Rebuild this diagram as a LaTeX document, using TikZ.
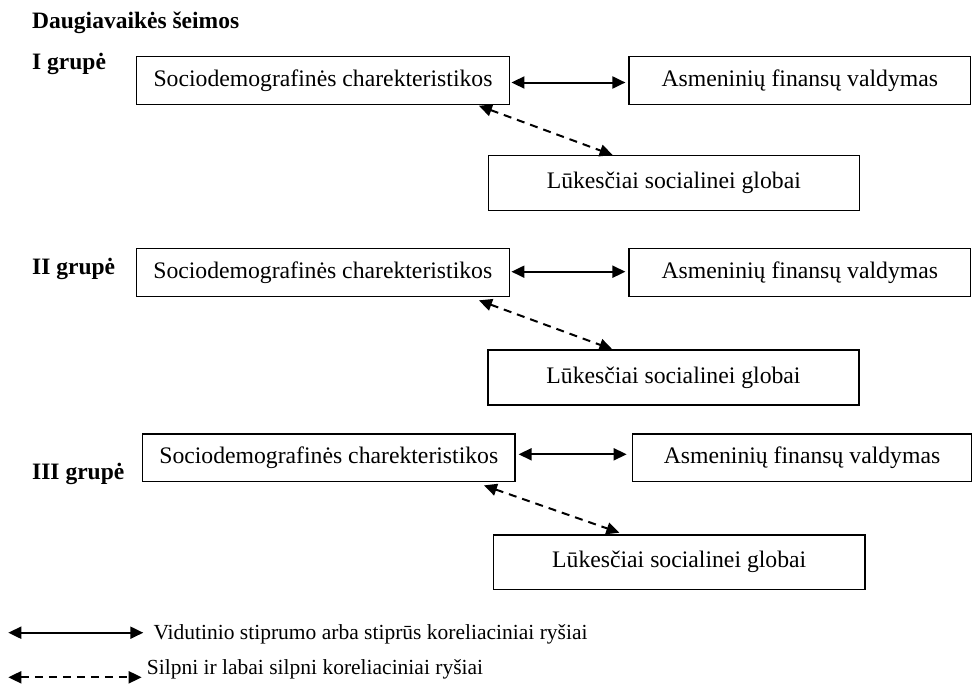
\documentclass[tikz,border=0pt]{standalone}
\usepackage{fontspec}
\setmainfont{Liberation Serif}
\usetikzlibrary{arrows.meta}
\begin{document}
\begin{tikzpicture}[x=1pt,y=-1pt,
  box/.style={draw, line width=1.3pt, inner sep=0pt, align=center,
    font=\fontsize{23.7}{28}\selectfont},
  grp/.style={anchor=base west, inner sep=0pt, font=\fontsize{23.5}{28}\selectfont\bfseries},
  legtext/.style={anchor=base west, inner sep=0pt, font=\fontsize{21.5}{26}\selectfont},
  tip/.tip={Triangle[length=13pt,width=12pt]},
  strong/.style={line width=2pt, tip-tip},
  weak/.style={line width=2pt, dash pattern=on 8pt off 6pt, tip-tip}
]
\useasboundingbox (0,0) rectangle (976,685);

% title
\node[grp] (title) at (32,28.5) {Daugiavaikės šeimos};

% Group I
\node[grp] (g1) at (32,70) {I grupė};
\node[box, minimum width=372.6pt, minimum height=47.6pt] (s1) at (323,80.5) {Sociodemografinės charekteristikos};
\node[box, minimum width=341.5pt, minimum height=47.6pt] (a1) at (799.8,80.5) {Asmeninių finansų valdymas};
\node[box, minimum width=371pt, minimum height=55pt] (l1) at (673.8,183.2) {Lūkesčiai socialinei globai};
\draw[strong, shorten <=1.5pt, shorten >=3pt] ([yshift=-2pt]s1.east) -- ([yshift=-2pt]a1.west);
\draw[weak] ([xshift=-31pt,yshift=-0.8pt]s1.south east) -- ([xshift=125pt]l1.north west);

% Group II
\node[grp] (g2) at (32,274.3) {II grupė};
\node[box, minimum width=373pt, minimum height=48.4pt] (s2) at (322.8,272.5) {Sociodemografinės charekteristikos};
\node[box, minimum width=341.5pt, minimum height=48.4pt] (a2) at (799.8,272.5) {Asmeninių finansų valdymas};
\node[box, minimum width=371pt, minimum height=55pt] (l2) at (673.5,377.5) {Lūkesčiai socialinei globai};
\draw[strong, shorten <=1.5pt, shorten >=3pt] ([yshift=0.8pt]s2.east) -- ([yshift=0.8pt]a2.west);
\draw[weak] ([xshift=-31pt,yshift=-3pt]s2.south east) -- ([xshift=125pt]l2.north west);

% Group III
\node[grp] (g3) at (32,479.3) {III grupė};
\node[box, minimum width=372.3pt, minimum height=47.7pt] (s3) at (328.8,457.9) {Sociodemografinės charekteristikos};
\node[box, minimum width=339.4pt, minimum height=47.7pt] (a3) at (802,457.9) {Asmeninių finansų valdymas};
\node[box, minimum width=371.7pt, minimum height=54.3pt] (l3) at (679.2,562.2) {Lūkesčiai socialinei globai};
\draw[strong, shorten <=3pt, shorten >=5pt] ([yshift=3.6pt]s3.east) -- ([yshift=3.6pt]a3.west);
\draw[weak] ([xshift=-31.7pt,yshift=-3pt]s3.south east) -- ([xshift=126.7pt,yshift=1.7pt]l3.north west);

% Legend
\coordinate (la1) at (8.3,632.7);
\coordinate (lb1) at (143.3,632.7);
\draw[strong] (la1) -- (lb1);
\node[legtext] (t1) at (153.3,639.5) {Vidutinio stiprumo arba stiprūs koreliaciniai ryšiai};
\coordinate (la2) at (8.3,677.3);
\coordinate (lb2) at (141.7,677.3);
\draw[weak] (la2) -- (lb2);
\node[legtext] (t2) at (146.7,674.3) {Silpni ir labai silpni koreliaciniai ryšiai};
\end{tikzpicture}
\end{document}
